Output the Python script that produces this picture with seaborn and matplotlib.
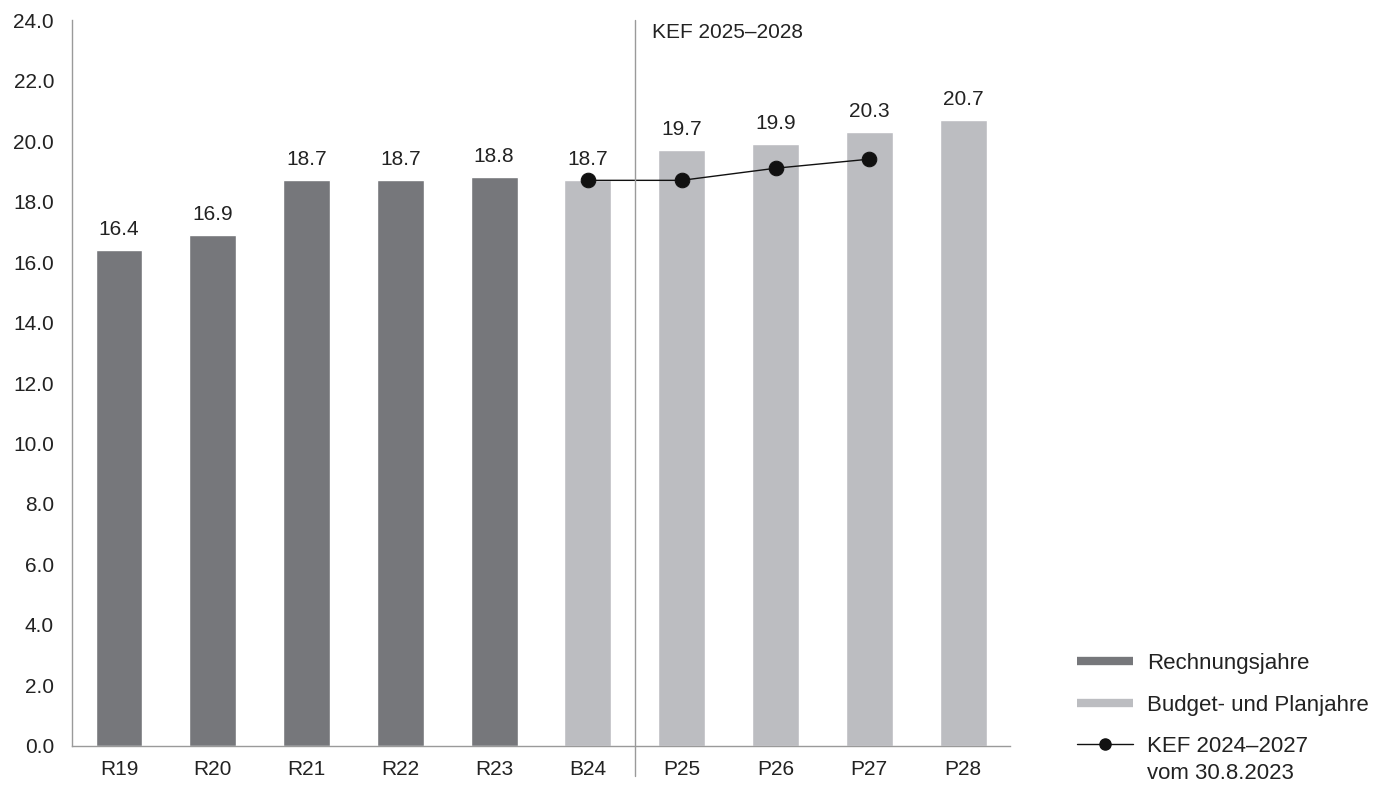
import pandas as pd
import matplotlib
matplotlib.use('Agg')
import matplotlib.pyplot as plt
from matplotlib.lines import Line2D
import seaborn as sns

# Chart data
years = ['R19', 'R20', 'R21', 'R22', 'R23', 'B24', 'P25', 'P26', 'P27', 'P28']
values = [16.4, 16.9, 18.7, 18.7, 18.8, 18.7, 19.7, 19.9, 20.3, 20.7]
kinds = ['Rechnungsjahre'] * 5 + ['Budget- und Planjahre'] * 5
kef_years = ['B24', 'P25', 'P26', 'P27']
kef_values = [18.7, 18.7, 19.1, 19.4]
y_ticks = [0, 2, 4, 6, 8, 10, 12, 14, 16, 18, 20, 22, 24]

dark = '#76777b'
light = '#bcbdc1'
axis_grey = '#9a9a9a'
text_col = '#222222'
fs = 15

sns.set_style('white')
plt.rcParams['font.family'] = ['Liberation Sans', 'DejaVu Sans']
plt.rcParams['font.size'] = fs

df = pd.DataFrame({'Jahr': years, 'Wert': values, 'Typ': kinds})

fig = plt.figure(figsize=(13.86, 7.85), dpi=100)
ax = fig.add_axes([0.052, 0.0497, 0.6767, 0.9248])

sns.barplot(data=df, x='Jahr', y='Wert', hue='Typ', order=years,
            palette={'Rechnungsjahre': dark, 'Budget- und Planjahre': light},
            dodge=False, width=0.5, saturation=1, legend=False, ax=ax)

for cont in ax.containers:
    ax.bar_label(cont, labels=[f'{v:.1f}' for v in cont.datavalues],
                 padding=8, fontsize=fs, color=text_col)

kef_x = [years.index(y) for y in kef_years]
sns.lineplot(x=kef_x, y=kef_values, color='#111111', linewidth=1,
             marker='o', markersize=10.5, markeredgecolor='#111111', ax=ax)

# separator between budget year and plan years
ax.axvline(5.5, ymin=-0.041, ymax=1, color=axis_grey, linewidth=1, clip_on=False)
ax.text(5.68, 23.6, 'KEF 2025–2028', fontsize=fs, va='center', ha='left', color=text_col)

ax.set_xlim(-0.5, 9.5)
ax.set_ylim(0, 24)
ax.set_yticks(y_ticks)
ax.set_yticklabels([f'{t:.1f}' for t in y_ticks])
ax.set_xlabel('')
ax.set_ylabel('')
ax.tick_params(axis='y', length=0, pad=13, labelsize=fs, labelcolor=text_col)
ax.tick_params(axis='x', length=0, pad=10, labelsize=fs, labelcolor=text_col)

for side in ['top', 'right']:
    ax.spines[side].set_visible(False)
for side in ['left', 'bottom']:
    ax.spines[side].set_color(axis_grey)
    ax.spines[side].set_linewidth(1)

handles = [
    Line2D([0], [0], color=dark, linewidth=6, solid_capstyle='butt'),
    Line2D([0], [0], color=light, linewidth=6, solid_capstyle='butt'),
    Line2D([0], [0], color='#111111', linewidth=1, marker='o', markersize=8),
]
labels = ['Rechnungsjahre', 'Budget- und Planjahre', 'KEF 2024–2027']
leg = fig.legend(handles, labels, loc='lower left', bbox_to_anchor=(0.771, 0.024),
                 frameon=False, fontsize=16, handlelength=2.5, handletextpad=0.62,
                 labelspacing=0.93, borderaxespad=0.0)
for t in leg.get_texts():
    t.set_color(text_col)

# second line of the KEF legend entry, placed under the first line
fig.canvas.draw()
bb = leg.get_texts()[2].get_window_extent()
fig.text(bb.x0, bb.y0 - 6, 'vom 30.8.2023', transform=None, va='top', ha='left',
         fontsize=16, color=text_col)

fig.savefig('out.png', dpi=100)
